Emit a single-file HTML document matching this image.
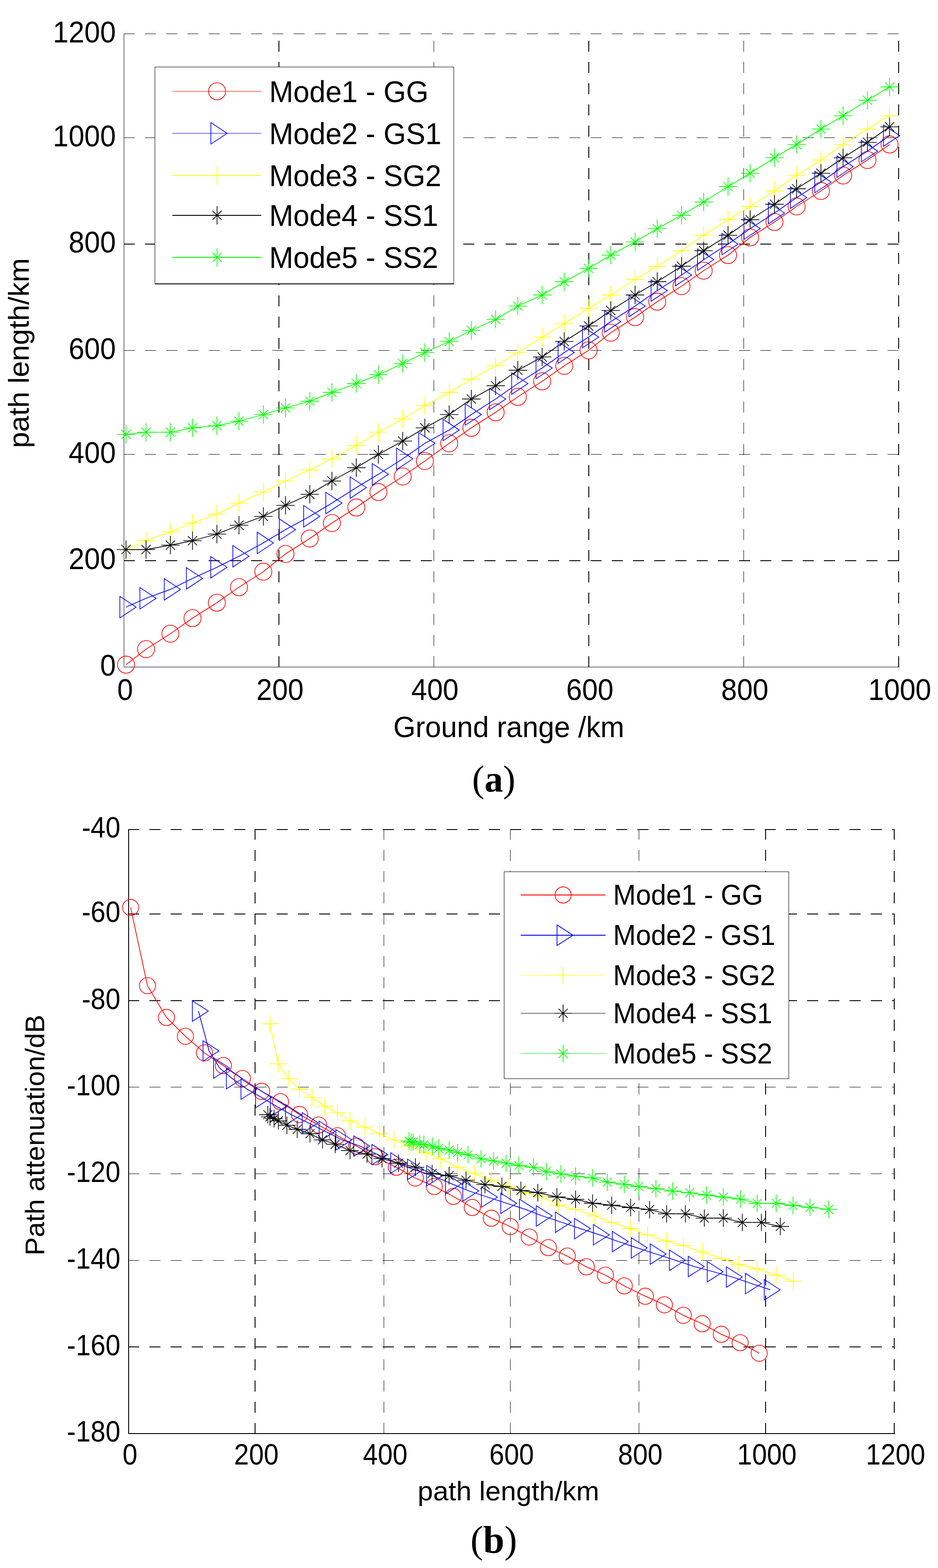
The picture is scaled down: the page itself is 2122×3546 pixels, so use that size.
<!DOCTYPE html><html><head><meta charset="utf-8"><title>Path length and path attenuation vs range</title><style>html,body{margin:0;padding:0;background:#fff;width:2122px;height:3546px;overflow:hidden;}svg{display:block}text{font-family:'Liberation Sans',Arial,Helvetica,sans-serif;fill:#000}</style></head><body>
<svg width="2122" height="3546" viewBox="0 0 2122 3546">
<rect width="2122" height="3546" fill="#fff"/>
<path d="M280 76.5H2034" stroke="#000" stroke-width="1" stroke-dasharray="25 23" fill="none"/>
<path d="M280 311.5H2034" stroke="#000" stroke-width="1" stroke-dasharray="25 23" fill="none"/>
<path d="M280 552.0H2034" stroke="#000" stroke-width="2" stroke-dasharray="25 23" fill="none"/>
<path d="M280 792.5H2034" stroke="#000" stroke-width="1" stroke-dasharray="25 23" fill="none"/>
<path d="M280 1027.5H2034" stroke="#000" stroke-width="1" stroke-dasharray="25 23" fill="none"/>
<path d="M280 1268.0H2034" stroke="#000" stroke-width="2" stroke-dasharray="25 23" fill="none"/>
<path d="M631.0 1509V76" stroke="#000" stroke-width="2" stroke-dasharray="25 23" fill="none"/>
<path d="M981.5 1509V76" stroke="#000" stroke-width="1" stroke-dasharray="25 23" fill="none"/>
<path d="M1332.0 1509V76" stroke="#000" stroke-width="2" stroke-dasharray="25 23" fill="none"/>
<path d="M1682.5 1509V76" stroke="#000" stroke-width="1" stroke-dasharray="25 23" fill="none"/>
<path d="M2033.0 1509V76" stroke="#000" stroke-width="2" stroke-dasharray="25 23" fill="none"/>
<rect x="280" y="76" width="1" height="1433" fill="#000"/>
<rect x="280" y="1508" width="1755" height="1" fill="#000"/>
<path d="M290 1876.0H2024" stroke="#000" stroke-width="2" stroke-dasharray="25 23" fill="none"/>
<path d="M290 2067.0H2024" stroke="#000" stroke-width="2" stroke-dasharray="25 23" fill="none"/>
<path d="M290 2263.0H2024" stroke="#000" stroke-width="2" stroke-dasharray="25 23" fill="none"/>
<path d="M290 2458.5H2024" stroke="#000" stroke-width="1" stroke-dasharray="25 23" fill="none"/>
<path d="M290 2654.5H2024" stroke="#000" stroke-width="1" stroke-dasharray="25 23" fill="none"/>
<path d="M290 2850.5H2024" stroke="#000" stroke-width="1" stroke-dasharray="25 23" fill="none"/>
<path d="M290 3046.0H2024" stroke="#000" stroke-width="2" stroke-dasharray="25 23" fill="none"/>
<path d="M577.0 3243V1875" stroke="#000" stroke-width="2" stroke-dasharray="25 23" fill="none"/>
<path d="M868.5 3243V1875" stroke="#000" stroke-width="1" stroke-dasharray="25 23" fill="none"/>
<path d="M1154.5 3243V1875" stroke="#000" stroke-width="1" stroke-dasharray="25 23" fill="none"/>
<path d="M1445.5 3243V1875" stroke="#000" stroke-width="1" stroke-dasharray="25 23" fill="none"/>
<path d="M1732.0 3243V1875" stroke="#000" stroke-width="2" stroke-dasharray="25 23" fill="none"/>
<path d="M2023.0 3243V1875" stroke="#000" stroke-width="2" stroke-dasharray="25 23" fill="none"/>
<rect x="290" y="1875" width="2" height="1368" fill="#000"/>
<rect x="290" y="3241" width="1735" height="2" fill="#000"/>
<path d="M285.1 1503.2L330.4 1468.1L385.5 1433.1L435.5 1398L490.6 1363L540.6 1327.9L595.7 1292.9L645.8 1252.8L700.8 1217.8L750.9 1182.8L806 1147.7L856 1112.7L911.1 1077.6L961.2 1042.6L1016.2 1002.6L1066.3 967.5L1121.3 932.5L1171.4 897.4L1226.5 862.4L1276.5 827.3L1331.6 792.3L1381.7 752.3L1436.7 717.2L1486.8 682.2L1541.8 647.1L1591.9 612.1L1647 577L1697 537L1752.1 502L1802.2 466.9L1857.2 431.9L1907.3 396.8L1962.4 361.8L2012.4 326.7" fill="none" stroke="#ff0000" stroke-width="1.7" stroke-linejoin="round"/><path d="M265.8 1503.2a19.3 19.3 0 1 0 38.6 0a19.3 19.3 0 1 0 -38.6 0M311.1 1468.1a19.3 19.3 0 1 0 38.6 0a19.3 19.3 0 1 0 -38.6 0M366.2 1433.1a19.3 19.3 0 1 0 38.6 0a19.3 19.3 0 1 0 -38.6 0M416.2 1398a19.3 19.3 0 1 0 38.6 0a19.3 19.3 0 1 0 -38.6 0M471.3 1363a19.3 19.3 0 1 0 38.6 0a19.3 19.3 0 1 0 -38.6 0M521.3 1327.9a19.3 19.3 0 1 0 38.6 0a19.3 19.3 0 1 0 -38.6 0M576.4 1292.9a19.3 19.3 0 1 0 38.6 0a19.3 19.3 0 1 0 -38.6 0M626.5 1252.8a19.3 19.3 0 1 0 38.6 0a19.3 19.3 0 1 0 -38.6 0M681.5 1217.8a19.3 19.3 0 1 0 38.6 0a19.3 19.3 0 1 0 -38.6 0M731.6 1182.8a19.3 19.3 0 1 0 38.6 0a19.3 19.3 0 1 0 -38.6 0M786.7 1147.7a19.3 19.3 0 1 0 38.6 0a19.3 19.3 0 1 0 -38.6 0M836.7 1112.7a19.3 19.3 0 1 0 38.6 0a19.3 19.3 0 1 0 -38.6 0M891.8 1077.6a19.3 19.3 0 1 0 38.6 0a19.3 19.3 0 1 0 -38.6 0M941.9 1042.6a19.3 19.3 0 1 0 38.6 0a19.3 19.3 0 1 0 -38.6 0M996.9 1002.6a19.3 19.3 0 1 0 38.6 0a19.3 19.3 0 1 0 -38.6 0M1047 967.5a19.3 19.3 0 1 0 38.6 0a19.3 19.3 0 1 0 -38.6 0M1102 932.5a19.3 19.3 0 1 0 38.6 0a19.3 19.3 0 1 0 -38.6 0M1152.1 897.4a19.3 19.3 0 1 0 38.6 0a19.3 19.3 0 1 0 -38.6 0M1207.2 862.4a19.3 19.3 0 1 0 38.6 0a19.3 19.3 0 1 0 -38.6 0M1257.2 827.3a19.3 19.3 0 1 0 38.6 0a19.3 19.3 0 1 0 -38.6 0M1312.3 792.3a19.3 19.3 0 1 0 38.6 0a19.3 19.3 0 1 0 -38.6 0M1362.4 752.3a19.3 19.3 0 1 0 38.6 0a19.3 19.3 0 1 0 -38.6 0M1417.4 717.2a19.3 19.3 0 1 0 38.6 0a19.3 19.3 0 1 0 -38.6 0M1467.5 682.2a19.3 19.3 0 1 0 38.6 0a19.3 19.3 0 1 0 -38.6 0M1522.5 647.1a19.3 19.3 0 1 0 38.6 0a19.3 19.3 0 1 0 -38.6 0M1572.6 612.1a19.3 19.3 0 1 0 38.6 0a19.3 19.3 0 1 0 -38.6 0M1627.7 577a19.3 19.3 0 1 0 38.6 0a19.3 19.3 0 1 0 -38.6 0M1677.7 537a19.3 19.3 0 1 0 38.6 0a19.3 19.3 0 1 0 -38.6 0M1732.8 502a19.3 19.3 0 1 0 38.6 0a19.3 19.3 0 1 0 -38.6 0M1782.9 466.9a19.3 19.3 0 1 0 38.6 0a19.3 19.3 0 1 0 -38.6 0M1837.9 431.9a19.3 19.3 0 1 0 38.6 0a19.3 19.3 0 1 0 -38.6 0M1888 396.8a19.3 19.3 0 1 0 38.6 0a19.3 19.3 0 1 0 -38.6 0M1943.1 361.8a19.3 19.3 0 1 0 38.6 0a19.3 19.3 0 1 0 -38.6 0M1993.1 326.7a19.3 19.3 0 1 0 38.6 0a19.3 19.3 0 1 0 -38.6 0" fill="none" stroke="#ff0000" stroke-width="1.6"/>
<path d="M285.1 1373L330.4 1353L385.5 1332.9L435.5 1307.9L490.6 1282.9L540.6 1257.9L595.7 1227.8L645.8 1197.8L700.8 1167.7L750.9 1137.7L806 1102.7L856 1072.6L911.1 1037.6L961.2 1002.6L1016.2 972.5L1066.3 937.5L1121.3 902.4L1171.4 867.4L1226.5 832.3L1276.5 797.3L1331.6 762.3L1381.7 727.2L1436.7 692.2L1486.8 657.1L1541.8 622.1L1591.9 587.1L1647 552L1697 517L1752.1 481.9L1802.2 446.9L1857.2 411.8L1907.3 376.8L1962.4 341.8L2012.4 306.7" fill="none" stroke="#0000ff" stroke-width="1.7" stroke-linejoin="round"/><path d="M271.2 1348.7L308 1373L271.2 1397.3ZM316.5 1328.7L353.3 1353L316.5 1377.3ZM371.6 1308.6L408.4 1332.9L371.6 1357.2ZM421.6 1283.6L458.4 1307.9L421.6 1332.2ZM476.7 1258.6L513.5 1282.9L476.7 1307.2ZM526.7 1233.6L563.5 1257.9L526.7 1282.2ZM581.8 1203.5L618.6 1227.8L581.8 1252.1ZM631.9 1173.5L668.7 1197.8L631.9 1222.1ZM686.9 1143.4L723.7 1167.7L686.9 1192ZM737 1113.4L773.8 1137.7L737 1162ZM792.1 1078.4L828.9 1102.7L792.1 1127ZM842.1 1048.3L878.9 1072.6L842.1 1096.9ZM897.2 1013.3L934 1037.6L897.2 1061.9ZM947.3 978.3L984.1 1002.6L947.3 1026.9ZM1002.3 948.2L1039.1 972.5L1002.3 996.8ZM1052.4 913.2L1089.2 937.5L1052.4 961.8ZM1107.4 878.1L1144.2 902.4L1107.4 926.7ZM1157.5 843.1L1194.3 867.4L1157.5 891.7ZM1212.6 808L1249.4 832.3L1212.6 856.6ZM1262.6 773L1299.4 797.3L1262.6 821.6ZM1317.7 738L1354.5 762.3L1317.7 786.6ZM1367.8 702.9L1404.6 727.2L1367.8 751.5ZM1422.8 667.9L1459.6 692.2L1422.8 716.5ZM1472.9 632.8L1509.7 657.1L1472.9 681.4ZM1527.9 597.8L1564.7 622.1L1527.9 646.4ZM1578 562.8L1614.8 587.1L1578 611.4ZM1633.1 527.7L1669.9 552L1633.1 576.3ZM1683.1 492.7L1719.9 517L1683.1 541.3ZM1738.2 457.6L1775 481.9L1738.2 506.2ZM1788.3 422.6L1825.1 446.9L1788.3 471.2ZM1843.3 387.5L1880.1 411.8L1843.3 436.1ZM1893.4 352.5L1930.2 376.8L1893.4 401.1ZM1948.5 317.5L1985.3 341.8L1948.5 366.1ZM1998.5 282.4L2035.3 306.7L1998.5 331Z" fill="none" stroke="#0000ff" stroke-width="1.6"/>
<path d="M285.1 1242.8L330.4 1222.8L385.5 1202.8L435.5 1182.8L490.6 1162.7L540.6 1137.7L595.7 1112.7L645.8 1087.7L700.8 1062.6L750.9 1037.6L806 1007.6L856 977.5L911.1 947.5L961.2 917.4L1016.2 887.4L1066.3 857.4L1121.3 827.3L1171.4 797.3L1226.5 762.3L1276.5 732.2L1331.6 697.2L1381.7 667.1L1436.7 632.1L1486.8 602.1L1541.8 567L1591.9 532L1647 496.9L1697 466.9L1752.1 431.9L1802.2 396.8L1857.2 361.8L1907.3 326.7L1962.4 291.7L2012.4 261.7" fill="none" stroke="#ffff00" stroke-width="1.7" stroke-linejoin="round"/><path d="M264.5 1242.8H305.7M285.1 1222.2V1263.4M309.8 1222.8H351M330.4 1202.2V1243.4M364.9 1202.8H406.1M385.5 1182.2V1223.4M414.9 1182.8H456.1M435.5 1162.2V1203.4M470 1162.7H511.2M490.6 1142.1V1183.3M520 1137.7H561.2M540.6 1117.1V1158.3M575.1 1112.7H616.3M595.7 1092.1V1133.3M625.2 1087.7H666.4M645.8 1067.1V1108.3M680.2 1062.6H721.4M700.8 1042V1083.2M730.3 1037.6H771.5M750.9 1017V1058.2M785.4 1007.6H826.6M806 987V1028.2M835.4 977.5H876.6M856 956.9V998.1M890.5 947.5H931.7M911.1 926.9V968.1M940.6 917.4H981.8M961.2 896.8V938M995.6 887.4H1036.8M1016.2 866.8V908M1045.7 857.4H1086.9M1066.3 836.8V878M1100.7 827.3H1141.9M1121.3 806.7V847.9M1150.8 797.3H1192M1171.4 776.7V817.9M1205.9 762.3H1247.1M1226.5 741.7V782.9M1255.9 732.2H1297.1M1276.5 711.6V752.8M1311 697.2H1352.2M1331.6 676.6V717.8M1361.1 667.1H1402.3M1381.7 646.5V687.7M1416.1 632.1H1457.3M1436.7 611.5V652.7M1466.2 602.1H1507.4M1486.8 581.5V622.7M1521.2 567H1562.4M1541.8 546.4V587.6M1571.3 532H1612.5M1591.9 511.4V552.6M1626.4 496.9H1667.6M1647 476.3V517.5M1676.4 466.9H1717.6M1697 446.3V487.5M1731.5 431.9H1772.7M1752.1 411.3V452.5M1781.6 396.8H1822.8M1802.2 376.2V417.4M1836.6 361.8H1877.8M1857.2 341.2V382.4M1886.7 326.7H1927.9M1907.3 306.1V347.3M1941.8 291.7H1983M1962.4 271.1V312.3M1991.8 261.7H2033M2012.4 241.1V282.3" fill="none" stroke="#ffff00" stroke-width="1.6"/>
<path d="M285.1 1242.8L330.4 1242.8L385.5 1232.8L435.5 1222.8L490.6 1207.8L540.6 1187.8L595.7 1167.7L645.8 1142.7L700.8 1117.7L750.9 1087.7L806 1057.6L856 1027.6L911.1 997.5L961.2 967.5L1016.2 937.5L1066.3 902.4L1121.3 872.4L1171.4 837.4L1226.5 807.3L1276.5 772.3L1331.6 737.2L1381.7 702.2L1436.7 667.1L1486.8 637.1L1541.8 602.1L1591.9 567L1647 532L1697 496.9L1752.1 461.9L1802.2 426.9L1857.2 391.8L1907.3 356.8L1962.4 321.7L2012.4 286.7" fill="none" stroke="#000000" stroke-width="1.7" stroke-linejoin="round"/><path d="M264.3 1242.8H305.9M285.1 1222V1263.6M274.7 1232.4L295.5 1253.2M274.7 1253.2L295.5 1232.4M309.6 1242.8H351.2M330.4 1222V1263.6M320 1232.4L340.8 1253.2M320 1253.2L340.8 1232.4M364.7 1232.8H406.3M385.5 1212V1253.6M375.1 1222.4L395.9 1243.2M375.1 1243.2L395.9 1222.4M414.7 1222.8H456.3M435.5 1202V1243.6M425.1 1212.4L445.9 1233.2M425.1 1233.2L445.9 1212.4M469.8 1207.8H511.4M490.6 1187V1228.6M480.2 1197.4L501 1218.2M480.2 1218.2L501 1197.4M519.8 1187.8H561.4M540.6 1167V1208.6M530.2 1177.4L551 1198.2M530.2 1198.2L551 1177.4M574.9 1167.7H616.5M595.7 1146.9V1188.5M585.3 1157.3L606.1 1178.1M585.3 1178.1L606.1 1157.3M625 1142.7H666.6M645.8 1121.9V1163.5M635.4 1132.3L656.2 1153.1M635.4 1153.1L656.2 1132.3M680 1117.7H721.6M700.8 1096.9V1138.5M690.4 1107.3L711.2 1128.1M690.4 1128.1L711.2 1107.3M730.1 1087.7H771.7M750.9 1066.9V1108.5M740.5 1077.3L761.3 1098.1M740.5 1098.1L761.3 1077.3M785.2 1057.6H826.8M806 1036.8V1078.4M795.6 1047.2L816.4 1068M795.6 1068L816.4 1047.2M835.2 1027.6H876.8M856 1006.8V1048.4M845.6 1017.2L866.4 1038M845.6 1038L866.4 1017.2M890.3 997.5H931.9M911.1 976.7V1018.3M900.7 987.1L921.5 1007.9M900.7 1007.9L921.5 987.1M940.4 967.5H982M961.2 946.7V988.3M950.8 957.1L971.6 977.9M950.8 977.9L971.6 957.1M995.4 937.5H1037M1016.2 916.7V958.3M1005.8 927.1L1026.6 947.9M1005.8 947.9L1026.6 927.1M1045.5 902.4H1087.1M1066.3 881.6V923.2M1055.9 892L1076.7 912.8M1055.9 912.8L1076.7 892M1100.5 872.4H1142.1M1121.3 851.6V893.2M1110.9 862L1131.7 882.8M1110.9 882.8L1131.7 862M1150.6 837.4H1192.2M1171.4 816.6V858.2M1161 827L1181.8 847.8M1161 847.8L1181.8 827M1205.7 807.3H1247.3M1226.5 786.5V828.1M1216.1 796.9L1236.9 817.7M1216.1 817.7L1236.9 796.9M1255.7 772.3H1297.3M1276.5 751.5V793.1M1266.1 761.9L1286.9 782.7M1266.1 782.7L1286.9 761.9M1310.8 737.2H1352.4M1331.6 716.4V758M1321.2 726.8L1342 747.6M1321.2 747.6L1342 726.8M1360.9 702.2H1402.5M1381.7 681.4V723M1371.3 691.8L1392.1 712.6M1371.3 712.6L1392.1 691.8M1415.9 667.1H1457.5M1436.7 646.3V687.9M1426.3 656.7L1447.1 677.5M1426.3 677.5L1447.1 656.7M1466 637.1H1507.6M1486.8 616.3V657.9M1476.4 626.7L1497.2 647.5M1476.4 647.5L1497.2 626.7M1521 602.1H1562.6M1541.8 581.3V622.9M1531.4 591.7L1552.2 612.5M1531.4 612.5L1552.2 591.7M1571.1 567H1612.7M1591.9 546.2V587.8M1581.5 556.6L1602.3 577.4M1581.5 577.4L1602.3 556.6M1626.2 532H1667.8M1647 511.2V552.8M1636.6 521.6L1657.4 542.4M1636.6 542.4L1657.4 521.6M1676.2 496.9H1717.8M1697 476.1V517.7M1686.6 486.5L1707.4 507.3M1686.6 507.3L1707.4 486.5M1731.3 461.9H1772.9M1752.1 441.1V482.7M1741.7 451.5L1762.5 472.3M1741.7 472.3L1762.5 451.5M1781.4 426.9H1823M1802.2 406.1V447.7M1791.8 416.5L1812.6 437.3M1791.8 437.3L1812.6 416.5M1836.4 391.8H1878M1857.2 371V412.6M1846.8 381.4L1867.6 402.2M1846.8 402.2L1867.6 381.4M1886.5 356.8H1928.1M1907.3 336V377.6M1896.9 346.4L1917.7 367.2M1896.9 367.2L1917.7 346.4M1941.6 321.7H1983.2M1962.4 300.9V342.5M1952 311.3L1972.8 332.1M1952 332.1L1972.8 311.3M1991.6 286.7H2033.2M2012.4 265.9V307.5M2002 276.3L2022.8 297.1M2002 297.1L2022.8 276.3" fill="none" stroke="#000000" stroke-width="1.6"/>
<path d="M285.1 982.5L330.4 977.5L385.5 977.5L435.5 967.5L490.6 962.5L540.6 952.5L595.7 937.5L645.8 922.5L700.8 907.4L750.9 887.4L806 867.4L856 847.4L911.1 822.3L961.2 797.3L1016.2 772.3L1066.3 747.2L1121.3 722.2L1171.4 692.2L1226.5 667.1L1276.5 637.1L1331.6 607.1L1381.7 577L1436.7 547L1486.8 517L1541.8 486.9L1591.9 456.9L1647 421.9L1697 391.8L1752.1 356.8L1802.2 326.7L1857.2 291.7L1907.3 261.7L1962.4 226.6L2012.4 196.6" fill="none" stroke="#00ff00" stroke-width="1.7" stroke-linejoin="round"/><path d="M264.3 982.5H305.9M285.1 961.7V1003.3M274.7 972.1L295.5 992.9M274.7 992.9L295.5 972.1M309.6 977.5H351.2M330.4 956.7V998.3M320 967.1L340.8 987.9M320 987.9L340.8 967.1M364.7 977.5H406.3M385.5 956.7V998.3M375.1 967.1L395.9 987.9M375.1 987.9L395.9 967.1M414.7 967.5H456.3M435.5 946.7V988.3M425.1 957.1L445.9 977.9M425.1 977.9L445.9 957.1M469.8 962.5H511.4M490.6 941.7V983.3M480.2 952.1L501 972.9M480.2 972.9L501 952.1M519.8 952.5H561.4M540.6 931.7V973.3M530.2 942.1L551 962.9M530.2 962.9L551 942.1M574.9 937.5H616.5M595.7 916.7V958.3M585.3 927.1L606.1 947.9M585.3 947.9L606.1 927.1M625 922.5H666.6M645.8 901.7V943.3M635.4 912.1L656.2 932.9M635.4 932.9L656.2 912.1M680 907.4H721.6M700.8 886.6V928.2M690.4 897L711.2 917.8M690.4 917.8L711.2 897M730.1 887.4H771.7M750.9 866.6V908.2M740.5 877L761.3 897.8M740.5 897.8L761.3 877M785.2 867.4H826.8M806 846.6V888.2M795.6 857L816.4 877.8M795.6 877.8L816.4 857M835.2 847.4H876.8M856 826.6V868.2M845.6 837L866.4 857.8M845.6 857.8L866.4 837M890.3 822.3H931.9M911.1 801.5V843.1M900.7 811.9L921.5 832.7M900.7 832.7L921.5 811.9M940.4 797.3H982M961.2 776.5V818.1M950.8 786.9L971.6 807.7M950.8 807.7L971.6 786.9M995.4 772.3H1037M1016.2 751.5V793.1M1005.8 761.9L1026.6 782.7M1005.8 782.7L1026.6 761.9M1045.5 747.2H1087.1M1066.3 726.4V768M1055.9 736.8L1076.7 757.6M1055.9 757.6L1076.7 736.8M1100.5 722.2H1142.1M1121.3 701.4V743M1110.9 711.8L1131.7 732.6M1110.9 732.6L1131.7 711.8M1150.6 692.2H1192.2M1171.4 671.4V713M1161 681.8L1181.8 702.6M1161 702.6L1181.8 681.8M1205.7 667.1H1247.3M1226.5 646.3V687.9M1216.1 656.7L1236.9 677.5M1216.1 677.5L1236.9 656.7M1255.7 637.1H1297.3M1276.5 616.3V657.9M1266.1 626.7L1286.9 647.5M1266.1 647.5L1286.9 626.7M1310.8 607.1H1352.4M1331.6 586.3V627.9M1321.2 596.7L1342 617.5M1321.2 617.5L1342 596.7M1360.9 577H1402.5M1381.7 556.2V597.8M1371.3 566.6L1392.1 587.4M1371.3 587.4L1392.1 566.6M1415.9 547H1457.5M1436.7 526.2V567.8M1426.3 536.6L1447.1 557.4M1426.3 557.4L1447.1 536.6M1466 517H1507.6M1486.8 496.2V537.8M1476.4 506.6L1497.2 527.4M1476.4 527.4L1497.2 506.6M1521 486.9H1562.6M1541.8 466.1V507.7M1531.4 476.5L1552.2 497.3M1531.4 497.3L1552.2 476.5M1571.1 456.9H1612.7M1591.9 436.1V477.7M1581.5 446.5L1602.3 467.3M1581.5 467.3L1602.3 446.5M1626.2 421.9H1667.8M1647 401.1V442.7M1636.6 411.5L1657.4 432.3M1636.6 432.3L1657.4 411.5M1676.2 391.8H1717.8M1697 371V412.6M1686.6 381.4L1707.4 402.2M1686.6 402.2L1707.4 381.4M1731.3 356.8H1772.9M1752.1 336V377.6M1741.7 346.4L1762.5 367.2M1741.7 367.2L1762.5 346.4M1781.4 326.7H1823M1802.2 305.9V347.5M1791.8 316.3L1812.6 337.1M1791.8 337.1L1812.6 316.3M1836.4 291.7H1878M1857.2 270.9V312.5M1846.8 281.3L1867.6 302.1M1846.8 302.1L1867.6 281.3M1886.5 261.7H1928.1M1907.3 240.9V282.5M1896.9 251.3L1917.7 272.1M1896.9 272.1L1917.7 251.3M1941.6 226.6H1983.2M1962.4 205.8V247.4M1952 216.2L1972.8 237M1952 237L1972.8 216.2M1991.6 196.6H2033.2M2012.4 175.8V217.4M2002 186.2L2022.8 207M2002 207L2022.8 186.2" fill="none" stroke="#00ff00" stroke-width="1.6"/>
<path d="M295.5 2052.2L333.6 2229.1L376.6 2300.9L419.5 2343.6L462.6 2381.1L505.3 2409.8L548.4 2439.1L592 2468L634.5 2491.5L677.6 2520.5L720.9 2544.3L763.4 2568.6L806.5 2591.8L848.5 2616L896.6 2639.7L939.5 2664L982.5 2683.1L1025.7 2705.7L1068.5 2730.7L1111.6 2754.9L1154.2 2773.8L1197.4 2797.6L1240.5 2821.5L1283.3 2840.6L1326.5 2864.9L1369.6 2883.8L1412.2 2908L1459.8 2931.4L1503 2950.8L1545.8 2974.6L1588.7 2993.7L1631.8 3017.4L1674.4 3036.5L1717.5 3060.3" fill="none" stroke="#ff0000" stroke-width="1.7" stroke-linejoin="round"/><path d="M277.2 2052.2a18.3 18.3 0 1 0 36.6 0a18.3 18.3 0 1 0 -36.6 0M315.3 2229.1a18.3 18.3 0 1 0 36.6 0a18.3 18.3 0 1 0 -36.6 0M358.3 2300.9a18.3 18.3 0 1 0 36.6 0a18.3 18.3 0 1 0 -36.6 0M401.2 2343.6a18.3 18.3 0 1 0 36.6 0a18.3 18.3 0 1 0 -36.6 0M444.3 2381.1a18.3 18.3 0 1 0 36.6 0a18.3 18.3 0 1 0 -36.6 0M487 2409.8a18.3 18.3 0 1 0 36.6 0a18.3 18.3 0 1 0 -36.6 0M530.1 2439.1a18.3 18.3 0 1 0 36.6 0a18.3 18.3 0 1 0 -36.6 0M573.7 2468a18.3 18.3 0 1 0 36.6 0a18.3 18.3 0 1 0 -36.6 0M616.2 2491.5a18.3 18.3 0 1 0 36.6 0a18.3 18.3 0 1 0 -36.6 0M659.3 2520.5a18.3 18.3 0 1 0 36.6 0a18.3 18.3 0 1 0 -36.6 0M702.6 2544.3a18.3 18.3 0 1 0 36.6 0a18.3 18.3 0 1 0 -36.6 0M745.1 2568.6a18.3 18.3 0 1 0 36.6 0a18.3 18.3 0 1 0 -36.6 0M788.2 2591.8a18.3 18.3 0 1 0 36.6 0a18.3 18.3 0 1 0 -36.6 0M830.2 2616a18.3 18.3 0 1 0 36.6 0a18.3 18.3 0 1 0 -36.6 0M878.3 2639.7a18.3 18.3 0 1 0 36.6 0a18.3 18.3 0 1 0 -36.6 0M921.2 2664a18.3 18.3 0 1 0 36.6 0a18.3 18.3 0 1 0 -36.6 0M964.2 2683.1a18.3 18.3 0 1 0 36.6 0a18.3 18.3 0 1 0 -36.6 0M1007.4 2705.7a18.3 18.3 0 1 0 36.6 0a18.3 18.3 0 1 0 -36.6 0M1050.2 2730.7a18.3 18.3 0 1 0 36.6 0a18.3 18.3 0 1 0 -36.6 0M1093.3 2754.9a18.3 18.3 0 1 0 36.6 0a18.3 18.3 0 1 0 -36.6 0M1135.9 2773.8a18.3 18.3 0 1 0 36.6 0a18.3 18.3 0 1 0 -36.6 0M1179.1 2797.6a18.3 18.3 0 1 0 36.6 0a18.3 18.3 0 1 0 -36.6 0M1222.2 2821.5a18.3 18.3 0 1 0 36.6 0a18.3 18.3 0 1 0 -36.6 0M1265 2840.6a18.3 18.3 0 1 0 36.6 0a18.3 18.3 0 1 0 -36.6 0M1308.2 2864.9a18.3 18.3 0 1 0 36.6 0a18.3 18.3 0 1 0 -36.6 0M1351.3 2883.8a18.3 18.3 0 1 0 36.6 0a18.3 18.3 0 1 0 -36.6 0M1393.9 2908a18.3 18.3 0 1 0 36.6 0a18.3 18.3 0 1 0 -36.6 0M1441.5 2931.4a18.3 18.3 0 1 0 36.6 0a18.3 18.3 0 1 0 -36.6 0M1484.7 2950.8a18.3 18.3 0 1 0 36.6 0a18.3 18.3 0 1 0 -36.6 0M1527.5 2974.6a18.3 18.3 0 1 0 36.6 0a18.3 18.3 0 1 0 -36.6 0M1570.4 2993.7a18.3 18.3 0 1 0 36.6 0a18.3 18.3 0 1 0 -36.6 0M1613.5 3017.4a18.3 18.3 0 1 0 36.6 0a18.3 18.3 0 1 0 -36.6 0M1656.1 3036.5a18.3 18.3 0 1 0 36.6 0a18.3 18.3 0 1 0 -36.6 0M1699.2 3060.3a18.3 18.3 0 1 0 36.6 0a18.3 18.3 0 1 0 -36.6 0" fill="none" stroke="#ff0000" stroke-width="1.6"/>
<path d="M448.9 2286.5L473 2376.7L496.9 2415.4L525.8 2439.3L558.9 2463.1L591.9 2482L625.3 2502L659.5 2521.1L697.3 2539.3L735.7 2558.5L773.5 2577.7L814 2591.8L855 2611.2L897.6 2630.1L935.6 2644.5L978.9 2658.9L1021.5 2677.1L1060.7 2693.3L1102.8 2707.2L1146.5 2721.3L1188.9 2735.1L1226.9 2749.8L1270.2 2764L1313.3 2778.6L1356.1 2792.4L1398.9 2807.8L1441.8 2822.1L1484.6 2836L1528.1 2850.1L1570.7 2864.3L1613.6 2876L1657 2888L1700.1 2902.7L1742.7 2916.9" fill="none" stroke="#0000ff" stroke-width="1.7" stroke-linejoin="round"/><path d="M435.2 2263.3L471.3 2286.5L435.2 2309.7ZM459.3 2353.5L495.4 2376.7L459.3 2399.9ZM483.2 2392.2L519.3 2415.4L483.2 2438.6ZM512.1 2416.1L548.2 2439.3L512.1 2462.5ZM545.2 2439.9L581.3 2463.1L545.2 2486.3ZM578.2 2458.8L614.3 2482L578.2 2505.2ZM611.6 2478.8L647.7 2502L611.6 2525.2ZM645.8 2497.9L681.9 2521.1L645.8 2544.3ZM683.6 2516.1L719.7 2539.3L683.6 2562.5ZM722 2535.3L758.1 2558.5L722 2581.7ZM759.8 2554.5L795.9 2577.7L759.8 2600.9ZM800.3 2568.6L836.4 2591.8L800.3 2615ZM841.3 2588L877.4 2611.2L841.3 2634.4ZM883.9 2606.9L920 2630.1L883.9 2653.3ZM921.9 2621.3L958 2644.5L921.9 2667.7ZM965.2 2635.7L1001.3 2658.9L965.2 2682.1ZM1007.8 2653.9L1043.9 2677.1L1007.8 2700.3ZM1047 2670.1L1083.1 2693.3L1047 2716.5ZM1089.1 2684L1125.2 2707.2L1089.1 2730.4ZM1132.8 2698.1L1168.9 2721.3L1132.8 2744.5ZM1175.2 2711.9L1211.3 2735.1L1175.2 2758.3ZM1213.2 2726.6L1249.3 2749.8L1213.2 2773ZM1256.5 2740.8L1292.6 2764L1256.5 2787.2ZM1299.6 2755.4L1335.7 2778.6L1299.6 2801.8ZM1342.4 2769.2L1378.5 2792.4L1342.4 2815.6ZM1385.2 2784.6L1421.3 2807.8L1385.2 2831ZM1428.1 2798.9L1464.2 2822.1L1428.1 2845.3ZM1470.9 2812.8L1507 2836L1470.9 2859.2ZM1514.4 2826.9L1550.5 2850.1L1514.4 2873.3ZM1557 2841.1L1593.1 2864.3L1557 2887.5ZM1599.9 2852.8L1636 2876L1599.9 2899.2ZM1643.3 2864.8L1679.4 2888L1643.3 2911.2ZM1686.4 2879.5L1722.5 2902.7L1686.4 2925.9ZM1729 2893.7L1765.1 2916.9L1729 2940.1Z" fill="none" stroke="#0000ff" stroke-width="1.6"/>
<path d="M610.7 2315.4L629.2 2405.8L653.8 2439.5L677.5 2463.1L706 2482.2L734.6 2501.5L763.3 2516L791.8 2534.8L825.6 2549L859 2563.7L891.2 2578L925.6 2592.1L963.7 2606.9L997.3 2620.8L1035.7 2639.7L1073.9 2654.2L1111.1 2668.7L1149.5 2683.1L1187.9 2697.2L1225.7 2706.3L1264.1 2725.5L1302.1 2735.2L1345.6 2749.8L1383.7 2764.3L1426.6 2778.4L1465 2792.5L1508.1 2807.3L1545.9 2816.8L1588.9 2831.5L1631.8 2845.7L1670 2859.4L1712.8 2869.4L1755.8 2883.8L1794.5 2897.7" fill="none" stroke="#ffff00" stroke-width="1.7" stroke-linejoin="round"/><path d="M590.9 2315.4H630.6M610.7 2295.6V2335.2M609.4 2405.8H649.1M629.2 2386V2425.7M633.9 2439.5H673.6M653.8 2419.7V2459.3M657.6 2463.1H697.4M677.5 2443.2V2482.9M686.1 2482.2H725.9M706 2462.3V2502M714.8 2501.5H754.5M734.6 2481.7V2521.3M743.4 2516H783.1M763.3 2496.2V2535.8M771.9 2534.8H811.6M791.8 2515V2554.7M805.8 2549H845.5M825.6 2529.2V2568.8M839.1 2563.7H878.9M859 2543.8V2583.5M871.4 2578H911.1M891.2 2558.2V2597.8M905.8 2592.1H945.5M925.6 2572.2V2611.9M943.9 2606.9H983.6M963.7 2587.1V2626.8M977.4 2620.8H1017.1M997.3 2601V2640.7M1015.9 2639.7H1055.5M1035.7 2619.8V2659.5M1054.1 2654.2H1093.8M1073.9 2634.3V2674M1091.2 2668.7H1130.9M1111.1 2648.8V2688.5M1129.7 2683.1H1169.3M1149.5 2663.2V2702.9M1168.1 2697.2H1207.8M1187.9 2677.3V2717M1205.9 2706.3H1245.5M1225.7 2686.5V2726.2M1244.2 2725.5H1283.9M1264.1 2705.7V2745.3M1282.2 2735.2H1321.9M1302.1 2715.3V2755M1325.8 2749.8H1365.4M1345.6 2730V2769.7M1363.9 2764.3H1403.5M1383.7 2744.5V2784.2M1406.8 2778.4H1446.4M1426.6 2758.6V2798.2M1445.2 2792.5H1484.8M1465 2772.7V2812.3M1488.2 2807.3H1527.9M1508.1 2787.5V2827.2M1526.1 2816.8H1565.8M1545.9 2797V2836.7M1569.1 2831.5H1608.8M1588.9 2811.7V2851.3M1612 2845.7H1651.6M1631.8 2825.8V2865.5M1650.2 2859.4H1689.8M1670 2839.6V2879.2M1693 2869.4H1732.6M1712.8 2849.6V2889.2M1736 2883.8H1775.6M1755.8 2864V2903.7M1774.7 2897.7H1814.3M1794.5 2877.8V2917.5" fill="none" stroke="#ffff00" stroke-width="1.6"/>
<path d="M605.9 2520.9L610.7 2525.8L619.9 2529.8L629.7 2534.7L649 2544.8L672.4 2553.9L701.3 2563.9L729.6 2577.7L758.3 2587.8L791.8 2601.9L830.3 2610L864.3 2620.3L901.7 2630.6L939.7 2639.7L977.5 2653.8L1015.9 2658.9L1054.3 2669L1097.2 2679L1135.4 2683.1L1178.4 2692.2L1216.6 2697.2L1259.7 2706.9L1302.1 2712.4L1340.5 2721.1L1383.7 2725.6L1426.6 2730.9L1469.5 2735.5L1508.1 2745L1550.5 2745L1593.4 2754.7L1636.4 2754.7L1679.4 2764.5L1722.5 2764.5L1765.3 2773.6" fill="none" stroke="#000000" stroke-width="1.7" stroke-linejoin="round"/><path d="M586 2520.9H625.8M605.9 2501.1V2540.8M595.8 2510.8L616 2531M595.8 2531L616 2510.8M590.9 2525.8H630.6M610.7 2506V2545.7M600.6 2515.7L620.8 2535.9M600.6 2535.9L620.8 2515.7M600 2529.8H639.8M619.9 2510V2549.7M609.8 2519.7L630 2539.9M609.8 2539.9L630 2519.7M609.9 2534.7H649.6M629.7 2514.8V2554.5M619.6 2524.6L639.8 2544.8M619.6 2544.8L639.8 2524.6M629.1 2544.8H668.9M649 2525V2564.7M638.9 2534.7L659.1 2554.9M638.9 2554.9L659.1 2534.7M652.5 2553.9H692.2M672.4 2534.1V2573.8M662.3 2543.8L682.5 2564M662.3 2564L682.5 2543.8M681.4 2563.9H721.1M701.3 2544.1V2583.8M691.2 2553.8L711.4 2574M691.2 2574L711.4 2553.8M709.8 2577.7H749.5M729.6 2557.8V2597.5M719.5 2567.6L739.7 2587.8M719.5 2587.8L739.7 2567.6M738.4 2587.8H778.1M758.3 2568V2607.7M748.2 2577.7L768.4 2597.9M748.2 2597.9L768.4 2577.7M771.9 2601.9H811.6M791.8 2582.1V2621.8M781.7 2591.8L801.9 2612M781.7 2612L801.9 2591.8M810.4 2610H850.1M830.3 2590.2V2629.8M820.2 2599.9L840.4 2620.1M820.2 2620.1L840.4 2599.9M844.4 2620.3H884.1M864.3 2600.5V2640.2M854.2 2610.2L874.4 2630.4M854.2 2630.4L874.4 2610.2M881.9 2630.6H921.6M901.7 2610.8V2650.4M891.6 2620.5L911.8 2640.7M891.6 2640.7L911.8 2620.5M919.9 2639.7H959.6M939.7 2619.8V2659.5M929.6 2629.6L949.8 2649.8M929.6 2649.8L949.8 2629.6M957.6 2653.8H997.4M977.5 2634V2673.7M967.4 2643.7L987.6 2663.9M967.4 2663.9L987.6 2643.7M996 2658.9H1035.8M1015.9 2639.1V2678.8M1005.8 2648.8L1026 2669M1005.8 2669L1026 2648.8M1034.5 2669H1074.1M1054.3 2649.2V2688.8M1044.2 2658.9L1064.4 2679.1M1044.2 2679.1L1064.4 2658.9M1077.4 2679H1117M1097.2 2659.2V2698.8M1087.1 2668.9L1107.3 2689.1M1087.1 2689.1L1107.3 2668.9M1115.6 2683.1H1155.2M1135.4 2663.2V2702.9M1125.3 2673L1145.5 2693.2M1125.3 2693.2L1145.5 2673M1158.6 2692.2H1198.2M1178.4 2672.3V2712M1168.3 2682.1L1188.5 2702.3M1168.3 2702.3L1188.5 2682.1M1196.8 2697.2H1236.4M1216.6 2677.3V2717M1206.5 2687.1L1226.7 2707.3M1206.5 2707.3L1226.7 2687.1M1239.9 2706.9H1279.5M1259.7 2687.1V2726.8M1249.6 2696.8L1269.8 2717M1249.6 2717L1269.8 2696.8M1282.2 2712.4H1321.9M1302.1 2692.6V2732.2M1292 2702.3L1312.2 2722.5M1292 2722.5L1312.2 2702.3M1320.7 2721.1H1360.3M1340.5 2701.2V2740.9M1330.4 2711L1350.6 2731.2M1330.4 2731.2L1350.6 2711M1363.9 2725.6H1403.5M1383.7 2705.8V2745.4M1373.6 2715.5L1393.8 2735.7M1373.6 2735.7L1393.8 2715.5M1406.8 2730.9H1446.4M1426.6 2711.1V2750.8M1416.5 2720.8L1436.7 2741M1416.5 2741L1436.7 2720.8M1449.7 2735.5H1489.3M1469.5 2715.7V2755.3M1459.4 2725.4L1479.6 2745.6M1459.4 2745.6L1479.6 2725.4M1488.2 2745H1527.9M1508.1 2725.2V2764.8M1498 2734.9L1518.2 2755.1M1498 2755.1L1518.2 2734.9M1530.7 2745H1570.3M1550.5 2725.2V2764.8M1540.4 2734.9L1560.6 2755.1M1540.4 2755.1L1560.6 2734.9M1573.6 2754.7H1613.2M1593.4 2734.8V2774.5M1583.3 2744.6L1603.5 2764.8M1583.3 2764.8L1603.5 2744.6M1616.6 2754.7H1656.2M1636.4 2734.8V2774.5M1626.3 2744.6L1646.5 2764.8M1626.3 2764.8L1646.5 2744.6M1659.6 2764.5H1699.2M1679.4 2744.7V2784.3M1669.3 2754.4L1689.5 2774.6M1669.3 2774.6L1689.5 2754.4M1702.7 2764.5H1742.3M1722.5 2744.7V2784.3M1712.4 2754.4L1732.6 2774.6M1712.4 2774.6L1732.6 2754.4M1745.5 2773.6H1785.1M1765.3 2753.8V2793.4M1755.2 2763.5L1775.4 2783.7M1755.2 2783.7L1775.4 2763.5" fill="none" stroke="#000000" stroke-width="1.6"/>
<path d="M925.4 2580.5L930.3 2582.9L930.3 2582.9L934.7 2582.7L949.6 2587.8L959 2588L978 2592.4L992.5 2596.9L1016 2601L1035.1 2606.3L1058.7 2611.4L1088.2 2620.5L1116.5 2625.5L1144.9 2630.5L1173.8 2635.6L1206.7 2640L1235.8 2649.7L1268.8 2654.8L1302.1 2659.8L1340.5 2663.9L1373.8 2673.3L1412.4 2678.3L1445.2 2683.4L1483.8 2688L1521.6 2693.5L1560 2697.5L1598.4 2702.6L1636.4 2707.2L1675 2711.7L1712.8 2721.4L1755.8 2721.4L1794 2726.1L1832.4 2730.5L1874.9 2735" fill="none" stroke="#00ff00" stroke-width="1.7" stroke-linejoin="round"/><path d="M905.5 2580.5H945.2M925.4 2560.7V2600.3M915.3 2570.4L935.5 2590.6M915.3 2590.6L935.5 2570.4M910.4 2582.9H950.1M930.3 2563.1V2602.8M920.2 2572.8L940.4 2593M920.2 2593L940.4 2572.8M910.4 2582.9H950.1M930.3 2563.1V2602.8M920.2 2572.8L940.4 2593M920.2 2593L940.4 2572.8M914.9 2582.7H954.6M934.7 2562.8V2602.5M924.6 2572.6L944.8 2592.8M924.6 2592.8L944.8 2572.6M929.8 2587.8H969.5M949.6 2568V2607.7M939.5 2577.7L959.7 2597.9M939.5 2597.9L959.7 2577.7M939.1 2588H978.9M959 2568.2V2607.8M948.9 2577.9L969.1 2598.1M948.9 2598.1L969.1 2577.9M958.1 2592.4H997.9M978 2572.6V2612.2M967.9 2582.3L988.1 2602.5M967.9 2602.5L988.1 2582.3M972.6 2596.9H1012.4M992.5 2577.1V2616.8M982.4 2586.8L1002.6 2607M982.4 2607L1002.6 2586.8M996.1 2601H1035.8M1016 2581.2V2620.8M1005.9 2590.9L1026.1 2611.1M1005.9 2611.1L1026.1 2590.9M1015.2 2606.3H1054.9M1035.1 2586.5V2626.2M1025 2596.2L1045.2 2616.4M1025 2616.4L1045.2 2596.2M1038.9 2611.4H1078.5M1058.7 2591.6V2631.2M1048.6 2601.3L1068.8 2621.5M1048.6 2621.5L1068.8 2601.3M1068.4 2620.5H1108M1088.2 2600.7V2640.3M1078.1 2610.4L1098.3 2630.6M1078.1 2630.6L1098.3 2610.4M1096.7 2625.5H1136.3M1116.5 2605.7V2645.3M1106.4 2615.4L1126.6 2635.6M1106.4 2635.6L1126.6 2615.4M1125.1 2630.5H1164.8M1144.9 2610.7V2650.3M1134.8 2620.4L1155 2640.6M1134.8 2640.6L1155 2620.4M1154 2635.6H1193.6M1173.8 2615.8V2655.4M1163.7 2625.5L1183.9 2645.7M1163.7 2645.7L1183.9 2625.5M1186.9 2640H1226.5M1206.7 2620.2V2659.8M1196.6 2629.9L1216.8 2650.1M1196.6 2650.1L1216.8 2629.9M1216 2649.7H1255.6M1235.8 2629.8V2669.5M1225.7 2639.6L1245.9 2659.8M1225.7 2659.8L1245.9 2639.6M1249 2654.8H1288.6M1268.8 2635V2674.7M1258.7 2644.7L1278.9 2664.9M1258.7 2664.9L1278.9 2644.7M1282.2 2659.8H1321.9M1302.1 2640V2679.7M1292 2649.7L1312.2 2669.9M1292 2669.9L1312.2 2649.7M1320.7 2663.9H1360.3M1340.5 2644.1V2683.8M1330.4 2653.8L1350.6 2674M1330.4 2674L1350.6 2653.8M1354 2673.3H1393.6M1373.8 2653.5V2693.2M1363.7 2663.2L1383.9 2683.4M1363.7 2683.4L1383.9 2663.2M1392.6 2678.3H1432.2M1412.4 2658.5V2698.2M1402.3 2668.2L1422.5 2688.4M1402.3 2688.4L1422.5 2668.2M1425.4 2683.4H1465M1445.2 2663.6V2703.2M1435.1 2673.3L1455.3 2693.5M1435.1 2693.5L1455.3 2673.3M1464 2688H1503.6M1483.8 2668.2V2707.8M1473.7 2677.9L1493.9 2698.1M1473.7 2698.1L1493.9 2677.9M1501.8 2693.5H1541.4M1521.6 2673.7V2713.3M1511.5 2683.4L1531.7 2703.6M1511.5 2703.6L1531.7 2683.4M1540.2 2697.5H1579.8M1560 2677.7V2717.3M1549.9 2687.4L1570.1 2707.6M1549.9 2707.6L1570.1 2687.4M1578.6 2702.6H1618.2M1598.4 2682.8V2722.4M1588.3 2692.5L1608.5 2712.7M1588.3 2712.7L1608.5 2692.5M1616.6 2707.2H1656.2M1636.4 2687.3V2727M1626.3 2697.1L1646.5 2717.3M1626.3 2717.3L1646.5 2697.1M1655.2 2711.7H1694.8M1675 2691.8V2731.5M1664.9 2701.6L1685.1 2721.8M1664.9 2721.8L1685.1 2701.6M1693 2721.4H1732.6M1712.8 2701.6V2741.2M1702.7 2711.3L1722.9 2731.5M1702.7 2731.5L1722.9 2711.3M1736 2721.4H1775.6M1755.8 2701.6V2741.2M1745.7 2711.3L1765.9 2731.5M1745.7 2731.5L1765.9 2711.3M1774.2 2726.1H1813.8M1794 2706.2V2745.9M1783.9 2716L1804.1 2736.2M1783.9 2736.2L1804.1 2716M1812.6 2730.5H1852.2M1832.4 2710.7V2750.3M1822.3 2720.4L1842.5 2740.6M1822.3 2740.6L1842.5 2720.4M1855.1 2735H1894.8M1874.9 2715.2V2754.8M1864.8 2724.9L1885 2745.1M1864.8 2745.1L1885 2724.9" fill="none" stroke="#00ff00" stroke-width="1.6"/>
<text transform="translate(262 95.8) scale(0.985 1.05)" font-size="65" text-anchor="end">1200</text>
<text transform="translate(262 330.8) scale(0.985 1.05)" font-size="65" text-anchor="end">1000</text>
<text transform="translate(262 571.3) scale(0.985 1.05)" font-size="65" text-anchor="end">800</text>
<text transform="translate(262 811.8) scale(0.985 1.05)" font-size="65" text-anchor="end">600</text>
<text transform="translate(262 1046.8) scale(0.985 1.05)" font-size="65" text-anchor="end">400</text>
<text transform="translate(262 1287.3) scale(0.985 1.05)" font-size="65" text-anchor="end">200</text>
<text transform="translate(262 1527.8) scale(0.985 1.05)" font-size="65" text-anchor="end">0</text>
<text transform="translate(283 1582.6) scale(0.985 1.05)" font-size="65" text-anchor="middle">0</text>
<text transform="translate(633.5 1582.6) scale(0.985 1.05)" font-size="65" text-anchor="middle">200</text>
<text transform="translate(984 1582.6) scale(0.985 1.05)" font-size="65" text-anchor="middle">400</text>
<text transform="translate(1334.5 1582.6) scale(0.985 1.05)" font-size="65" text-anchor="middle">600</text>
<text transform="translate(1685 1582.6) scale(0.985 1.05)" font-size="65" text-anchor="middle">800</text>
<text transform="translate(2035.5 1582.6) scale(0.985 1.05)" font-size="65" text-anchor="middle">1000</text>
<text transform="translate(272.3 1893.5) scale(0.975 1.07)" font-size="62" text-anchor="end">-40</text>
<text transform="translate(272.3 2084.5) scale(0.975 1.07)" font-size="62" text-anchor="end">-60</text>
<text transform="translate(272.3 2281.5) scale(0.975 1.07)" font-size="62" text-anchor="end">-80</text>
<text transform="translate(272.3 2477) scale(0.975 1.07)" font-size="62" text-anchor="end">-100</text>
<text transform="translate(272.3 2673) scale(0.975 1.07)" font-size="62" text-anchor="end">-120</text>
<text transform="translate(272.3 2869) scale(0.975 1.07)" font-size="62" text-anchor="end">-140</text>
<text transform="translate(272.3 3064.5) scale(0.975 1.07)" font-size="62" text-anchor="end">-160</text>
<text transform="translate(272.3 3259.5) scale(0.975 1.07)" font-size="62" text-anchor="end">-180</text>
<text transform="translate(294 3312.4) scale(0.975 1.07)" font-size="62" text-anchor="middle">0</text>
<text transform="translate(580 3312.4) scale(0.975 1.07)" font-size="62" text-anchor="middle">200</text>
<text transform="translate(871.5 3312.4) scale(0.975 1.07)" font-size="62" text-anchor="middle">400</text>
<text transform="translate(1157.5 3312.4) scale(0.975 1.07)" font-size="62" text-anchor="middle">600</text>
<text transform="translate(1448.5 3312.4) scale(0.975 1.07)" font-size="62" text-anchor="middle">800</text>
<text transform="translate(1735 3312.4) scale(0.975 1.07)" font-size="62" text-anchor="middle">1000</text>
<text transform="translate(2026 3312.4) scale(0.975 1.07)" font-size="62" text-anchor="middle">1200</text>
<text transform="translate(1151 1667.3) scale(0.998 1.03)" font-size="65" text-anchor="middle">Ground range /km</text>
<text transform="translate(65,798.5) rotate(-90) scale(1.007 1)" font-size="65" text-anchor="middle">path length/km</text>
<text transform="translate(1150.2 3393.4) scale(1.01 1.0)" font-size="62" text-anchor="middle">path length/km</text>
<text transform="translate(100,2567) rotate(-90)" font-size="62" text-anchor="middle">Path attenuation/dB</text>
<text x="1117" y="1790" font-size="84" text-anchor="middle" style="font-family:'Liberation Serif','Times New Roman',serif">(<tspan font-weight="bold">a</tspan>)</text>
<text x="1117" y="3511" font-size="86.3" text-anchor="middle" style="font-family:'Liberation Serif','Times New Roman',serif">(<tspan font-weight="bold">b</tspan>)</text>
<rect x="350" y="151" width="676" height="490" fill="#fff"/>
<path d="M350.5 151V643M350 151.5H1027M1026.5 151V643" stroke="#000" stroke-width="1" fill="none" shape-rendering="crispEdges"/><path d="M350 642H1027" stroke="#000" stroke-width="2" fill="none" shape-rendering="crispEdges"/>
<path d="M389.5 206.5H591" stroke="#ff0000" stroke-width="1" fill="none" shape-rendering="crispEdges"/>
<path d="M471.7 206.5a19.3 19.3 0 1 0 38.6 0a19.3 19.3 0 1 0 -38.6 0" stroke="#ff0000" stroke-width="1.6" fill="none"/>
<text transform="translate(609 230.9) scale(1.008 1.04)" font-size="65">Mode1 - GG</text>
<path d="M389.5 301.5H591" stroke="#0000ff" stroke-width="1" fill="none" shape-rendering="crispEdges"/>
<path d="M477.1 277.2L513.9 301.5L477.1 325.8Z" stroke="#0000ff" stroke-width="1.6" fill="none"/>
<text transform="translate(609 325.9) scale(1.008 1.04)" font-size="65">Mode2 - GS1</text>
<path d="M389.5 397H591" stroke="#ffff00" stroke-width="2" fill="none" shape-rendering="crispEdges"/>
<path d="M470.4 397H511.6M491 376.4V417.6" stroke="#ffff00" stroke-width="1.6" fill="none"/>
<text transform="translate(609 421.4) scale(1.008 1.04)" font-size="65">Mode3 - SG2</text>
<path d="M389.5 487H591" stroke="#000000" stroke-width="2" fill="none" shape-rendering="crispEdges"/>
<path d="M470.2 487H511.8M491 466.2V507.8M480.6 476.6L501.4 497.4M480.6 497.4L501.4 476.6" stroke="#000000" stroke-width="1.6" fill="none"/>
<text transform="translate(609 511.4) scale(1.008 1.04)" font-size="65">Mode4 - SS1</text>
<path d="M389.5 582H591" stroke="#00ff00" stroke-width="2" fill="none" shape-rendering="crispEdges"/>
<path d="M470.2 582H511.8M491 561.2V602.8M480.6 571.6L501.4 592.4M480.6 592.4L501.4 571.6" stroke="#00ff00" stroke-width="1.6" fill="none"/>
<text transform="translate(609 606.4) scale(1.008 1.04)" font-size="65">Mode5 - SS2</text>
<rect x="1140" y="1971" width="644" height="468" fill="#fff"/>
<path d="M1140.5 1971V2440M1140 1971.5H1785M1784.5 1971V2440M1140 2439.5H1785" stroke="#000" stroke-width="1" fill="none" shape-rendering="crispEdges"/>
<path d="M1177.9 2024H1370" stroke="#ff0000" stroke-width="2" fill="none" shape-rendering="crispEdges"/>
<path d="M1255.6 2024a18.3 18.3 0 1 0 36.6 0a18.3 18.3 0 1 0 -36.6 0" stroke="#ff0000" stroke-width="1.7" fill="none"/>
<text transform="translate(1387 2046.2) scale(0.995 1.057)" font-size="62">Mode1 - GG</text>
<path d="M1177.9 2115H1370" stroke="#0000ff" stroke-width="2" fill="none" shape-rendering="crispEdges"/>
<path d="M1260.2 2091.8L1296.3 2115L1260.2 2138.2Z" stroke="#0000ff" stroke-width="1.7" fill="none"/>
<text transform="translate(1387 2137.2) scale(0.995 1.057)" font-size="62">Mode2 - GS1</text>
<path d="M1177.9 2205.5H1370" stroke="#ffff00" stroke-width="1" fill="none" shape-rendering="crispEdges"/>
<path d="M1254.1 2205.5H1293.8M1273.9 2185.7V2225.3" stroke="#ffff00" stroke-width="1.7" fill="none"/>
<text transform="translate(1387 2227.7) scale(0.995 1.057)" font-size="62">Mode3 - SG2</text>
<path d="M1177.9 2291.5H1370" stroke="#000000" stroke-width="1" fill="none" shape-rendering="crispEdges"/>
<path d="M1254.1 2291.5H1293.8M1273.9 2271.7V2311.3M1263.8 2281.4L1284 2301.6M1263.8 2301.6L1284 2281.4" stroke="#000000" stroke-width="1.7" fill="none"/>
<text transform="translate(1387 2313.7) scale(0.995 1.057)" font-size="62">Mode4 - SS1</text>
<path d="M1177.9 2382.5H1370" stroke="#00ff00" stroke-width="1" fill="none" shape-rendering="crispEdges"/>
<path d="M1254.1 2382.5H1293.8M1273.9 2362.7V2402.3M1263.8 2372.4L1284 2392.6M1263.8 2392.6L1284 2372.4" stroke="#00ff00" stroke-width="1.7" fill="none"/>
<text transform="translate(1387 2404.7) scale(0.995 1.057)" font-size="62">Mode5 - SS2</text>
</svg></body></html>
